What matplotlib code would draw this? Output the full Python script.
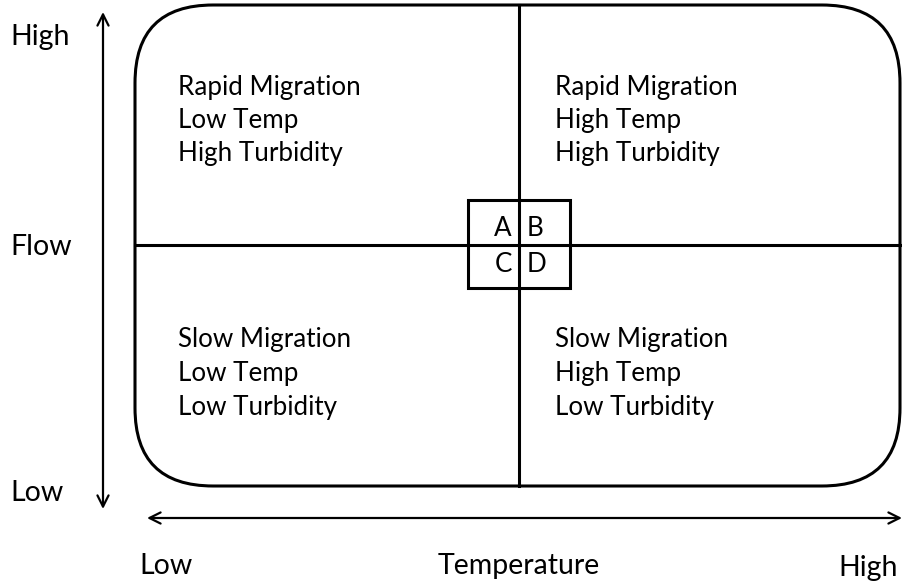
import matplotlib
matplotlib.use("Agg")
import matplotlib.pyplot as plt
from matplotlib.patches import FancyBboxPatch, Rectangle

# ---- data / text ----
y_axis_labels = ["High", "Flow", "Low"]
x_axis_labels = ["Low", "Temperature", "High"]
quadrant_texts = {
    "top_left": ["Rapid Migration", "Low Temp", "High Turbidity"],
    "top_right": ["Rapid Migration", "High Temp", "High Turbidity"],
    "bottom_left": ["Slow Migration", "Low Temp", "Low Turbidity"],
    "bottom_right": ["Slow Migration", "High Temp", "Low Turbidity"],
}
cell_letters = ["A", "B", "C", "D"]

FONT = "Lato"
FS = 18.7
FS_AX = 20.5

fig = plt.figure(figsize=(9.03, 5.86), dpi=100)
ax = fig.add_axes([0, 0, 1, 1])
ax.set_xlim(0, 903)
ax.set_ylim(586, 0)
ax.axis("off")

lw_box = 2.2
# rounded rectangle
box = FancyBboxPatch((135, 5), 765, 481, boxstyle="round,pad=0,rounding_size=78",
                     fill=False, ec="black", lw=lw_box)
ax.add_patch(box)
# center dividing lines
ax.plot([519, 519], [5, 486], color="black", lw=lw_box)
ax.plot([135, 900], [245, 245], color="black", lw=lw_box)
# small central box
ax.add_patch(Rectangle((468, 200), 102, 88, fill=False, ec="black", lw=lw_box))

# letters
ax.text(512, 228, cell_letters[0], ha="right", va="center", fontsize=FS, family=FONT)
ax.text(527, 228, cell_letters[1], ha="left", va="center", fontsize=FS, family=FONT)
ax.text(512, 265, cell_letters[2], ha="right", va="center", fontsize=FS, family=FONT)
ax.text(527, 265, cell_letters[3], ha="left", va="center", fontsize=FS, family=FONT)

# quadrant texts
pos = {"top_left": (178, 87), "top_right": (555, 87),
       "bottom_left": (178, 340), "bottom_right": (555, 340)}
for k, lines in quadrant_texts.items():
    x0, y0 = pos[k]
    for i, t in enumerate(lines):
        ax.text(x0, y0 + i * 33.5, t, ha="left", va="center", fontsize=FS, family=FONT)

# arrows
aprops = dict(arrowstyle="<->,head_length=0.8,head_width=0.4", color="black", lw=1.6,
              shrinkA=0, shrinkB=0)
ax.annotate("", xy=(103, 12), xytext=(103, 509), arrowprops=aprops)
ax.annotate("", xy=(147, 518), xytext=(902, 518), arrowprops=aprops)

# axis labels
ax.text(10, 37, y_axis_labels[0], ha="left", va="center", fontsize=FS_AX, family=FONT)
ax.text(10, 247, y_axis_labels[1], ha="left", va="center", fontsize=FS_AX, family=FONT)
ax.text(10, 493, y_axis_labels[2], ha="left", va="center", fontsize=FS_AX, family=FONT)
ax.text(139, 566, x_axis_labels[0], ha="left", va="center", fontsize=FS_AX, family=FONT)
ax.text(519, 566, x_axis_labels[1], ha="center", va="center", fontsize=FS_AX, family=FONT)
ax.text(898, 568, x_axis_labels[2], ha="right", va="center", fontsize=FS_AX, family=FONT)

fig.savefig("out.png", dpi=100)
